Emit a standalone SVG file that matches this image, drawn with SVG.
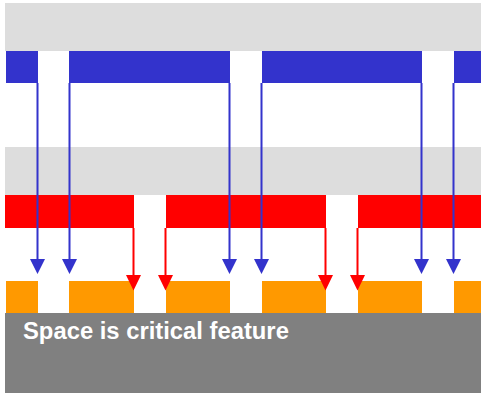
<svg xmlns="http://www.w3.org/2000/svg" width="481" height="393" viewBox="0 0 481 393">
  <style>
    .lt { fill: #DDDDDD; }
    .blue { fill: #3333CC; }
    .red { fill: #FF0000; }
    .orange { fill: #FF9900; }
    .base { fill: #808080; }
    .bl { stroke: #3333CC; stroke-width: 2; fill: none; }
    .rl { stroke: #FF0000; stroke-width: 2; fill: none; }
    .bh { fill: #3333CC; }
    .rh { fill: #FF0000; }
    .label { font-family: "Liberation Sans", Arial, sans-serif; font-weight: bold; font-size: 23.8px; fill: #FFFFFF; }
  </style>

  <rect width="481" height="393" fill="#FFFFFF"/>

  <!-- upper mask level -->
  <g id="upper-layer">
    <rect class="lt" x="5" y="3" width="476" height="48"/>
    <rect class="blue" x="6" y="51" width="32" height="32"/>
    <rect class="blue" x="69" y="51" width="161" height="32"/>
    <rect class="blue" x="262" y="51" width="160" height="32"/>
    <rect class="blue" x="454" y="51" width="27" height="32"/>
  </g>

  <!-- second mask level -->
  <g id="middle-layer">
    <rect class="lt" x="5" y="147" width="476" height="48"/>
    <rect class="red" x="5" y="195" width="129" height="33"/>
    <rect class="red" x="166" y="195" width="160" height="33"/>
    <rect class="red" x="358" y="195" width="123" height="33"/>
  </g>

  <!-- printed pattern -->
  <g id="pattern">
    <rect class="orange" x="6" y="281" width="32" height="32"/>
    <rect class="orange" x="69" y="281" width="65" height="32"/>
    <rect class="orange" x="166" y="281" width="64" height="32"/>
    <rect class="orange" x="262" y="281" width="64" height="32"/>
    <rect class="orange" x="358" y="281" width="64" height="32"/>
    <rect class="orange" x="454" y="281" width="27" height="32"/>
  </g>

  <g id="substrate">
    <rect class="base" x="5" y="313" width="476" height="80"/>
    <text class="label" x="23" y="339">Space is critical feature</text>
  </g>

  <!-- edge projections -->
  <g id="connectors">
    <g>
      <path class="bl" d="M37.5 83V260M69.5 83V260M229.5 83V260M261.5 83V260M421.5 83V260M453.5 83V260"/>
      <path class="bh" d="M30 259h15l-7.5 15zM62 259h15l-7.5 15zM222 259h15l-7.5 15zM254 259h15l-7.5 15zM414 259h15l-7.5 15zM446 259h15l-7.5 15z"/>
    </g>
    <g>
      <path class="rl" d="M133.5 228V276M165.5 228V276M325.5 228V276M357.5 228V276"/>
      <path class="rh" d="M126 275h15l-7.5 15.5zM158 275h15l-7.5 15.5zM318 275h15l-7.5 15.5zM350 275h15l-7.5 15.5z"/>
    </g>
  </g>
</svg>
